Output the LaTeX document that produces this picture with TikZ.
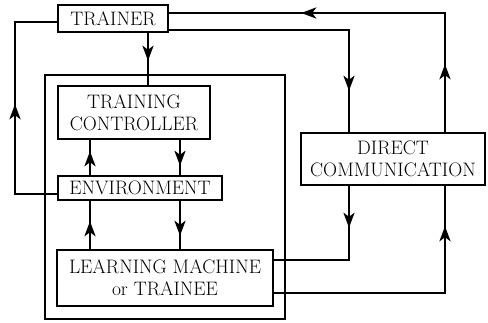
\documentclass[tikz,border=0pt]{standalone}
\usetikzlibrary{arrows.meta,decorations.markings}
\begin{document}
\begin{tikzpicture}[x=1pt, y=-1pt,
    every node/.style={font=\fontsize{19.5}{22}\selectfont},
    box/.style={draw, line width=1.6pt, inner sep=0pt, align=center},
    flow/.style={line width=2.6pt},
    arrowat/.style={postaction={decorate, decoration={markings,
        mark=at position #1 with {\arrow{Stealth[length=15pt, width=11pt, inset=4pt]}}}}}]
    \useasboundingbox (0,0) rectangle (488,322);

    \node[draw, line width=1.3pt, minimum width=240pt, minimum height=244pt] (machine) at (165,197) {};
    \node[box, minimum width=110pt, minimum height=27pt] (trainer) at (113,18.5) {TRAINER};
    \node[box, minimum width=152pt, minimum height=53pt] (ctrl) at (134,112.5) {TRAINING\\CONTROLLER};
    \node[box, minimum width=164pt, minimum height=24pt] (env) at (140,188) {ENVIRONMENT};
    \node[box, minimum width=216pt, minimum height=56pt] (lm) at (165,278) {LEARNING MACHINE\\or TRAINEE};
    \node[box, minimum width=184pt, minimum height=52pt] (comm) at (393,159) {DIRECT\\COMMUNICATION};
    \coordinate (back) at (15,22);

    % trainer down to the controller
    \draw[flow, arrowat=28pt] ([xshift=35pt]trainer.south) -- ([xshift=35pt]trainer.south |- ctrl.north);
    % controller <-> environment <-> learner
    \draw[flow, arrowat=24pt] ([xshift=-50pt]env.north) -- ([xshift=-50pt]env.north |- ctrl.south);
    \draw[flow, arrowat=26pt] ([xshift=40pt]env.north |- ctrl.south) -- ([xshift=40pt]env.north);
    \draw[flow, arrowat=28pt] ([xshift=-75pt]lm.north) -- ([xshift=-75pt]lm.north |- env.south);
    \draw[flow, arrowat=35pt] ([xshift=15pt]lm.north |- env.south) -- ([xshift=15pt]lm.north);
    % environment back to the trainer
    \draw[flow, arrowat=132pt] ([yshift=-6pt]env.west) -| (back) -- ([yshift=-3.5pt]trainer.west);
    % loops through direct communication
    \draw[flow, arrowat=241pt] ([yshift=-11.5pt]trainer.east) -| ([xshift=-44pt]comm.north);
    \draw[flow, arrowat=42pt] ([xshift=-44pt]comm.south) |- ([yshift=18pt]lm.east);
    \draw[flow, arrowat=238pt] ([yshift=-15pt]lm.east) -| ([xshift=52pt]comm.south);
    \draw[flow, arrowat=68pt, arrowat=263pt] ([xshift=52pt]comm.north) |- ([yshift=5.5pt]trainer.east);
\end{tikzpicture}
\end{document}
